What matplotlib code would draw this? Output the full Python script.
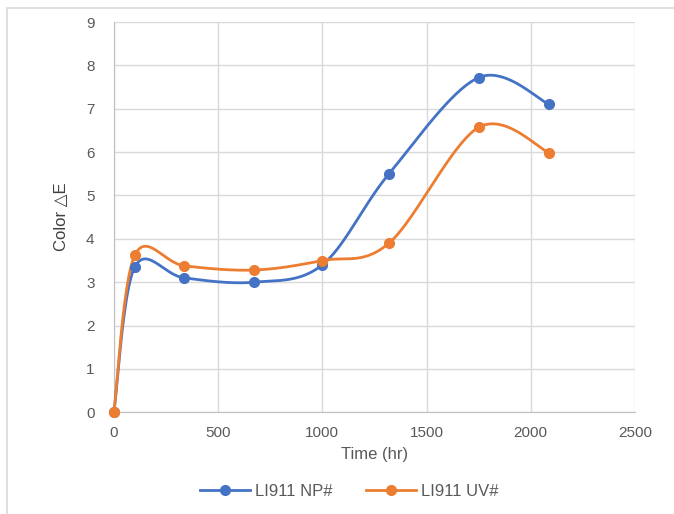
import numpy as np
import matplotlib.pyplot as plt
from matplotlib.patches import Rectangle

# data
time_hr = [0, 100, 336, 672, 1000, 1320, 1750, 2090]
np_vals = [0, 3.35, 3.1, 3.0, 3.4, 5.5, 7.72, 7.1]
uv_vals = [0, 3.62, 3.38, 3.28, 3.5, 3.9, 6.57, 5.98]
names = ["LI911 NP#", "LI911 UV#"]
colors = ["#4472C4", "#ED7D31"]


def smooth(x, y, n=40):
    # Excel style smoothed line: cubic bezier through points (catmull-rom controls)
    x = np.asarray(x, float)
    y = np.asarray(y, float)
    px = np.concatenate([[x[0]], x, [x[-1]]])
    py = np.concatenate([[y[0]], y, [y[-1]]])
    xs, ys = [], []
    t = np.linspace(0, 1, n)
    for i in range(1, len(px) - 2):
        p0 = np.array([px[i], py[i]])
        p3 = np.array([px[i + 1], py[i + 1]])
        c1 = p0 + (np.array([px[i + 1], py[i + 1]]) - np.array([px[i - 1], py[i - 1]])) / 6
        c2 = p3 - (np.array([px[i + 2], py[i + 2]]) - np.array([px[i], py[i]])) / 6
        b = ((1 - t) ** 3)[:, None] * p0 + (3 * (1 - t) ** 2 * t)[:, None] * c1 \
            + (3 * (1 - t) * t ** 2)[:, None] * c2 + (t ** 3)[:, None] * p3
        xs.extend(b[:, 0])
        ys.extend(b[:, 1])
    return xs, ys


plt.rcParams['font.family'] = ['Liberation Sans', 'DejaVu Sans']

fig = plt.figure(figsize=(6.74, 5.14), dpi=100)
fig.patches.append(Rectangle((0.011, -0.01), 1.0, 0.995, transform=fig.transFigure,
                             fill=False, edgecolor="#d9d9d9", linewidth=1.2))
ax = fig.add_axes([0.169, 0.198, 0.773, 0.759])

for vals, name, c in zip([np_vals, uv_vals], names, colors):
    sx, sy = smooth(time_hr, vals)
    ax.plot(sx, sy, color=c, linewidth=2, zorder=3, clip_on=False)
    ax.plot(time_hr, vals, 'o', color=c, markersize=7, zorder=4, clip_on=False)
    ax.plot([], [], '-o', color=c, linewidth=2, markersize=7, label=name)

ax.set_xlim(0, 2500)
ax.set_ylim(0, 9)
ax.set_xticks(range(0, 2501, 500))
ax.set_yticks(range(0, 10))
ax.grid(True, color="#d9d9d9", linewidth=1)
ax.set_axisbelow(True)
for s in ax.spines.values():
    s.set_visible(False)
ax.spines['left'].set_visible(True)
ax.spines['left'].set_color("#bfbfbf")
ax.spines['bottom'].set_visible(True)
ax.spines['bottom'].set_color("#bfbfbf")
ax.tick_params(axis='x', length=0, labelsize=11, colors="#595959", pad=10)
ax.tick_params(axis='y', length=0, labelsize=11, colors="#595959", pad=14)

ax.set_xlabel("Time (hr)", fontsize=12, color="#595959", labelpad=5)
ax.set_ylabel("Color \u25b3E", fontsize=12, color="#404040", labelpad=12)

fig.legend(loc="lower center", ncol=2, frameon=False, fontsize=12,
           bbox_to_anchor=(0.518, 0.0), handlelength=3.0, handletextpad=0.3,
           columnspacing=2.0, labelcolor="#595959")

fig.savefig("out.png", dpi=100)
